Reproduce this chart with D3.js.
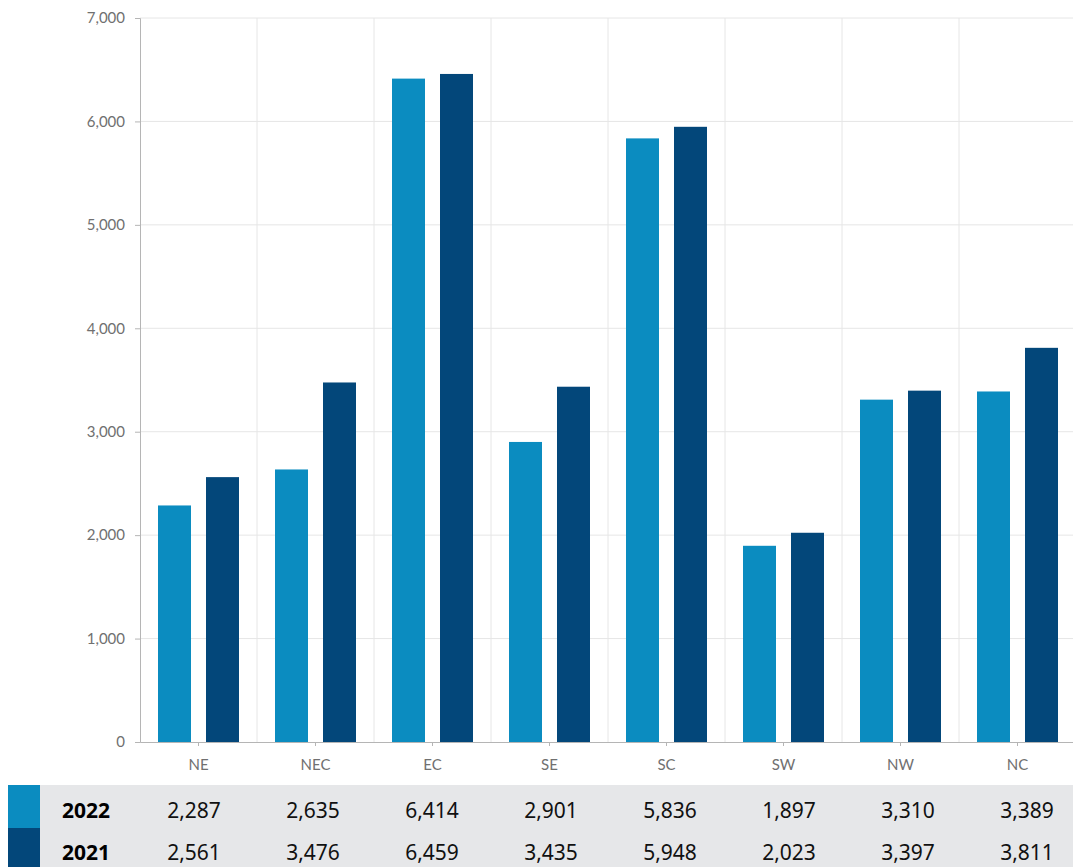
<!DOCTYPE html>
<html><head><meta charset="utf-8">
<script src="https://cdn.jsdelivr.net/npm/d3@7"></script>
<style>body{margin:0;background:#fff}svg{display:block}</style>
</head><body>
<svg id="c" width="1073" height="867"></svg>
<script>
const categories = ["NE","NEC","EC","SE","SC","SW","NW","NC"];
const seriesNames = ["2022","2021"];
const values2022 = [2287,2635,6414,2901,5836,1897,3310,3389];
const values2021 = [2561,3476,6459,3435,5948,2023,3397,3811];
const yTicks = [0,1000,2000,3000,4000,5000,6000,7000];
const colors = ["#0b8cc0","#03477a"];

const svg = d3.select("#c");
const x = d3.scaleBand().domain(categories).range([140,1076]).paddingInner(0).paddingOuter(0);
const y = d3.scaleLinear().domain([0,7000]).range([742,18]);
const inner = d3.scaleBand().domain(seriesNames).range([0,x.bandwidth()]).paddingInner(0.3125).paddingOuter(0.375);

// grid
svg.append("g").selectAll("line.h").data(yTicks.slice(1)).join("line")
  .attr("x1",140).attr("x2",1076).attr("y1",d=>y(d)).attr("y2",d=>y(d))
  .attr("stroke","#e6e6e6").attr("stroke-width",1);
svg.append("g").selectAll("line.v").data(categories).join("line")
  .attr("x1",d=>x(d)+x.bandwidth()).attr("x2",d=>x(d)+x.bandwidth())
  .attr("y1",18).attr("y2",742).attr("stroke","#e6e6e6").attr("stroke-width",1);

// bars
const series = [values2022, values2021];
series.forEach((vals,si)=>{
  svg.append("g").selectAll("rect").data(categories).join("rect")
    .attr("x",(d)=>x(d)+inner(seriesNames[si]))
    .attr("width",inner.bandwidth())
    .attr("y",(d,i)=>y(vals[i]))
    .attr("height",(d,i)=>y(0)-y(vals[i]))
    .attr("fill",colors[si]);
});

// axes
const yAxis = svg.append("g").attr("transform","translate(140,0)")
  .call(d3.axisLeft(y).tickValues(yTicks).tickFormat(d3.format(",")).tickSize(5).tickPadding(10));
yAxis.select(".domain").attr("stroke","#b5b5b5");
yAxis.selectAll(".tick line").attr("stroke","#b5b5b5");
yAxis.selectAll("text").attr("fill","#707070").style("font-family","Lato, 'Open Sans', sans-serif").style("font-size","15px");

const xAxis = svg.append("g").attr("transform","translate(0,742)")
  .call(d3.axisBottom(x).tickSize(4).tickPadding(13).tickSizeOuter(0));
xAxis.select(".domain").attr("stroke","#b5b5b5");
xAxis.selectAll(".tick line").attr("stroke","#b5b5b5");
xAxis.selectAll("text").attr("fill","#707070").style("font-family","Lato, 'Open Sans', sans-serif").style("font-size","15px");

// table
const tx = d3.scaleBand().domain(categories).range([134.5,1086.5]);
const rowTop = [785,828];
const rowH = [43,39];
const baseY = [818,860];
series.forEach((vals,si)=>{
  svg.append("rect").attr("x",40).attr("y",rowTop[si]).attr("width",1033).attr("height",rowH[si]).attr("fill","#e6e7e9");
  svg.append("rect").attr("x",8).attr("y",rowTop[si]).attr("width",32).attr("height",rowH[si]).attr("fill",colors[si]);
  svg.append("text").attr("x",62).attr("y",baseY[si]).text(seriesNames[si])
    .attr("font-family","'Noto Sans', 'Open Sans', sans-serif").attr("font-size","21px").attr("font-weight","bold").attr("fill","#000");
  svg.append("g").selectAll("text").data(categories).join("text")
    .attr("x",d=>tx(d)+tx.bandwidth()/2).attr("y",baseY[si])
    .attr("text-anchor","middle")
    .attr("font-family","'Noto Sans', 'Open Sans', sans-serif").attr("font-size","21px").attr("fill","#111")
    .text((d,i)=>d3.format(",")(vals[i]));
});
</script>
</body></html>
